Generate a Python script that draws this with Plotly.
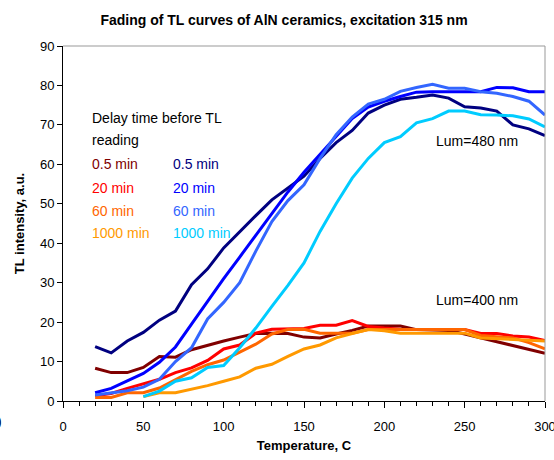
import plotly.graph_objects as go

temp_a = [20, 30, 40, 50, 60, 70, 80, 90, 100, 110, 120, 130, 140, 150, 160, 170, 180, 190, 200,
          210, 220, 230, 240, 250, 260, 270, 280, 290, 300]
temp_b = [50, 60, 70, 80, 90, 100, 110, 120, 130, 140, 150, 160, 170, 180, 190, 200,
          210, 220, 230, 240, 250, 260, 270, 280, 290, 300]

# Lum = 400 nm
l400_05 = [8.3, 7.2, 7.2, 8.5, 11.3, 11.1, 13.0, 14.2, 15.2, 16.2, 17.1, 17.2, 17.1, 16.2, 16.0, 17.0, 17.9, 19.0, 19.0,
           19.0, 18.1, 18.0, 17.9, 17.0, 16.0, 15.0, 14.1, 13.0, 12.1]
l400_20 = [1.3, 1.9, 3.2, 4.3, 5.5, 7.2, 8.4, 10.3, 13.2, 14.2, 17.2, 18.2, 18.3, 18.4, 19.2, 19.2, 20.4, 18.9, 18.5,
           18.2, 18.1, 18.1, 18.1, 18.1, 17.1, 17.1, 16.5, 16.2, 15.3]
l400_60 = [0.9, 0.9, 2.1, 2.1, 3.3, 5.5, 7.5, 9.2, 10.4, 12.4, 14.4, 17.0, 18.1, 18.2, 17.2, 17.2, 17.2, 18.1, 18.1,
           18.1, 18.1, 18.1, 18.1, 18.1, 16.6, 16.3, 16.0, 14.8, 13.2]
l400_1000 = [1.1, 2.1, 2.1, 3.0, 3.9, 5.0, 6.1, 8.3, 9.3, 11.3, 13.2, 14.2, 16.0, 17.1, 18.1, 17.8,
             17.2, 17.2, 17.2, 17.2, 17.2, 16.0, 15.8, 15.5, 15.3, 15.2]

# Lum = 480 nm
l480_05 = [13.8, 12.2, 15.2, 17.4, 20.5, 22.8, 29.5, 33.5, 38.8, 43.0, 47.0, 51.0, 54.0, 57.0, 61.5, 65.5, 68.6, 73.0, 75.0,
           76.5, 77.0, 77.6, 76.8, 74.6, 74.3, 73.5, 70.0, 69.0, 67.3]
l480_20 = [2.1, 3.2, 5.1, 7.0, 9.8, 13.7, 19.5, 25.3, 31.0, 36.5, 42.0, 47.5, 53.0, 58.0, 62.5, 67.0, 71.6, 74.5, 76.0,
           77.2, 78.3, 78.4, 78.4, 78.4, 78.4, 79.5, 79.4, 78.4, 78.4]
l480_60 = [1.5, 2.0, 2.6, 3.5, 5.5, 10.0, 13.5, 20.8, 25.0, 30.0, 38.0, 45.5, 50.8, 54.8, 61.5, 67.5, 72.0, 75.3, 76.5,
           78.5, 79.5, 80.3, 79.3, 79.3, 78.4, 78.0, 77.2, 76.0, 72.5]
l480_1000 = [1.1, 2.5, 5.0, 5.9, 8.5, 9.0, 13.5, 18.5, 24.0, 29.3, 35.0, 43.0, 50.0, 56.5, 61.5, 65.5,
             67.0, 70.5, 71.6, 73.5, 73.5, 72.6, 72.5, 72.3, 71.5, 69.5]

delay_labels = ["0.5 min", "20 min", "60 min", "1000 min"]
colors_400 = ["#800000", "#FF0000", "#FF6600", "#FF9900"]
colors_480 = ["#000080", "#0000FF", "#3366FF", "#00CCFF"]

series = [
    (temp_a, l400_05, colors_400[0]),
    (temp_a, l400_20, colors_400[1]),
    (temp_a, l400_60, colors_400[2]),
    (temp_b, l400_1000, colors_400[3]),
    (temp_a, l480_05, colors_480[0]),
    (temp_a, l480_20, colors_480[1]),
    (temp_a, l480_60, colors_480[2]),
    (temp_b, l480_1000, colors_480[3]),
]

FONT = "Liberation Sans, Arial, sans-serif"

fig = go.Figure()
for xs, ys, c in series:
    fig.add_trace(go.Scatter(x=xs, y=ys, mode="lines", line=dict(color=c, width=3),
                             showlegend=False, hoverinfo="skip"))

annotations = [
    dict(x=16.9, y=71.8, text="Delay time before TL", color="#000000"),
    dict(x=16.9, y=66.1, text="reading", color="#000000"),
]
row_y = [60.1, 54.1, 48.2, 42.5]
for i, lab in enumerate(delay_labels):
    annotations.append(dict(x=16.9, y=row_y[i], text=lab, color=colors_400[i]))
    annotations.append(dict(x=67.1, y=row_y[i], text=lab, color=colors_480[i]))
annotations.append(dict(x=230.8, y=65.8, text="Lum=480 nm", color="#000000"))
annotations.append(dict(x=230.8, y=25.6, text="Lum=400 nm", color="#000000"))

for a in annotations:
    fig.add_annotation(x=a["x"], y=a["y"], xref="x", yref="y", text=a["text"], showarrow=False,
                       xanchor="left", yanchor="middle",
                       font=dict(family=FONT, size=14, color=a["color"]))

# sliver of a neighbouring label cut by the left edge of the picture
fig.add_annotation(x=(4 - 63) / 482, y=(401 - 422) / 355, xref="paper", yref="paper",
                   text="<b>0</b>", showarrow=False, xanchor="right", yanchor="middle",
                   font=dict(family=FONT, size=19, color="#000000"))

fig.update_layout(
    width=554, height=460,
    margin=dict(l=63, r=9, t=46, b=59),
    paper_bgcolor="white", plot_bgcolor="white",
    title=dict(text="<b>Fading of TL curves of AlN ceramics, excitation 315 nm</b>",
               x=284 / 554, xanchor="center", y=1 - 20 / 460, yanchor="middle",
               font=dict(family=FONT, size=14, color="#000000")),
    shapes=[
        dict(type="line", xref="paper", yref="paper", x0=0, x1=1, y0=1, y1=1,
             line=dict(color="#999999", width=1)),
        dict(type="line", xref="paper", yref="paper", x0=1, x1=1, y0=0, y1=1,
             line=dict(color="#999999", width=1)),
    ],
)

fig.update_xaxes(
    range=[0, 300], tickmode="linear", tick0=0, dtick=50, automargin=False,
    showgrid=False, zeroline=False,
    showline=True, linecolor="#000000", linewidth=1,
    ticks="outside", ticklen=6, tickcolor="#000000",
    ticklabelstandoff=7, ticklabeloverflow="allow",
    minor=dict(ticks="outside", ticklen=4, dtick=10, tickcolor="#000000", showgrid=False),
    tickfont=dict(family=FONT, size=13, color="#000000"),
    title=dict(text="<b>Temperature, C</b>", font=dict(family=FONT, size=13, color="#000000"), standoff=8),
)
fig.update_yaxes(
    range=[0, 90], tickmode="linear", tick0=0, dtick=10, automargin=False,
    showgrid=False, zeroline=False,
    showline=True, linecolor="#000000", linewidth=1,
    ticks="outside", ticklen=5, tickcolor="#000000",
    tickfont=dict(family=FONT, size=13, color="#000000"),
    title=dict(text="<b>TL intensity, a.u.</b>", font=dict(family=FONT, size=13, color="#000000"), standoff=12),
)

fig.write_html("out.html")
